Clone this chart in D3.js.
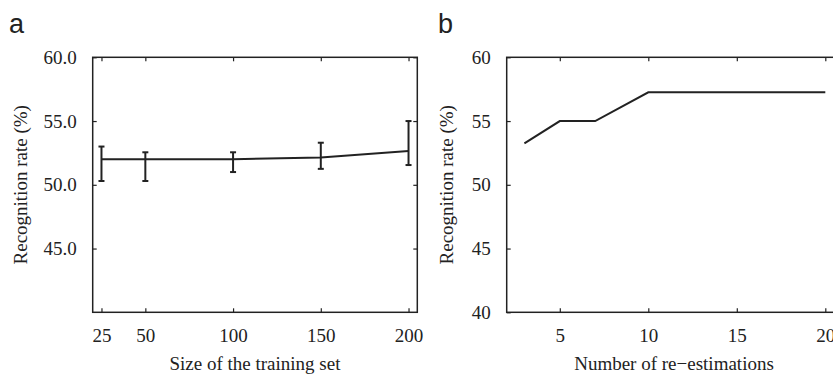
<!DOCTYPE html>
<html>
<head>
<meta charset="utf-8">
<script src="https://cdn.jsdelivr.net/npm/d3@7"></script>
<style>
  html, body { margin: 0; padding: 0; background: #fff; }
  svg { display: block; }
  .tick text { font-family: "Liberation Serif", "Times New Roman", serif; font-size: 19px; fill: #222; }
  .lbl { font-family: "Liberation Serif", "Times New Roman", serif; font-size: 19px; fill: #222; }
  .panel { font-family: "Liberation Sans", Arial, sans-serif; font-size: 27px; fill: #222; }
</style>
</head>
<body>
<svg id="chart" width="833" height="374"></svg>
<script>
// ---- data, panel a ----
const trainingSizes = [25, 50, 100, 150, 200];
const meanRate      = [52.0, 52.0, 52.0, 52.15, 52.65];
const upperRate     = [53.0, 52.55, 52.55, 53.3, 55.0];
const lowerRate     = [50.3, 50.3, 51.0, 51.25, 51.55];
const xTicksA = [25, 50, 100, 150, 200];
const yTicksA = [45, 50, 55, 60];

// ---- data, panel b ----
const reEstimations = [3, 5, 7, 10, 20];
const rateB         = [53.25, 55.0, 55.0, 57.25, 57.25];
const xTicksB = [5, 10, 15, 20];
const yTicksB = [40, 45, 50, 55, 60];

const ink = "#222";
const svg = d3.select("#chart");

function frame(g, x, y, xTicks, yTicks, yFmt, xLabel, xLabelCenter) {
  const [x0, x1] = x.range();
  const [y0, y1] = y.range();
  g.append("g").attr("transform", `translate(0,${y0})`)
    .call(d3.axisBottom(x).tickValues(xTicks).tickSizeInner(-4).tickSizeOuter(0).tickPadding(16))
    .call(s => s.select(".domain").remove());
  g.append("g").attr("transform", `translate(0,${y1})`)
    .call(d3.axisTop(x).tickValues(xTicks).tickSizeInner(-4).tickSizeOuter(0).tickFormat(""))
    .call(s => s.select(".domain").remove());
  g.append("g").attr("transform", `translate(${x0},0)`)
    .call(d3.axisLeft(y).tickValues(yTicks).tickSizeInner(-4).tickSizeOuter(0).tickPadding(16).tickFormat(d3.format(yFmt)))
    .call(s => s.select(".domain").remove());
  g.append("g").attr("transform", `translate(${x1},0)`)
    .call(d3.axisRight(y).tickValues(yTicks).tickSizeInner(-4).tickSizeOuter(0).tickFormat(""))
    .call(s => s.select(".domain").remove());
  g.selectAll(".tick line").attr("stroke", ink).attr("stroke-width", 1.2);
  g.append("rect")
    .attr("x", x0).attr("y", y1).attr("width", x1 - x0).attr("height", y0 - y1)
    .attr("fill", "none").attr("stroke", ink).attr("stroke-width", 1.5);
  g.append("text").attr("class", "lbl")
    .attr("x", xLabelCenter).attr("y", 370)
    .attr("text-anchor", "middle").text(xLabel);
}

// ---- panel a ----
const xA = d3.scaleLinear().domain([20, 205]).range([92.7, 417.3]);
const yA = d3.scaleLinear().domain([40, 60]).range([312.3, 57.3]);
const gA = svg.append("g");
frame(gA, xA, yA, xTicksA, yTicksA, ".1f", "Size of the training set", 255);
gA.append("text").attr("class", "lbl")
  .attr("transform", `translate(26.5,${(yA(40) + yA(60)) / 2}) rotate(-90)`)
  .attr("text-anchor", "middle").text("Recognition rate (%)");
gA.append("text").attr("class", "panel").attr("x", 9).attr("y", 33).text("a");

const ptsA = trainingSizes.map((s, i) => ({ s, m: meanRate[i], hi: upperRate[i], lo: lowerRate[i] }));
gA.append("path").datum(ptsA)
  .attr("fill", "none").attr("stroke", ink).attr("stroke-width", 2)
  .attr("d", d3.line().x(d => xA(d.s)).y(d => yA(d.m)));
const eb = gA.selectAll(".eb").data(ptsA).enter().append("g").attr("class", "eb")
  .attr("stroke", ink).attr("stroke-width", 2);
eb.append("line").attr("x1", d => xA(d.s)).attr("x2", d => xA(d.s))
  .attr("y1", d => yA(d.lo)).attr("y2", d => yA(d.hi));
eb.append("line").attr("x1", d => xA(d.s) - 3).attr("x2", d => xA(d.s) + 3)
  .attr("y1", d => yA(d.hi)).attr("y2", d => yA(d.hi));
eb.append("line").attr("x1", d => xA(d.s) - 3).attr("x2", d => xA(d.s) + 3)
  .attr("y1", d => yA(d.lo)).attr("y2", d => yA(d.lo));

// ---- panel b ----
const xB = d3.scaleLinear().domain([2, 21]).range([506.7, 506.7 + 19 * 17.7]);
const yB = d3.scaleLinear().domain([40, 60]).range([312.3, 57.3]);
const gB = svg.append("g");
frame(gB, xB, yB, xTicksB, yTicksB, "d", "Number of re\u2212estimations", 674);
gB.append("text").attr("class", "lbl")
  .attr("transform", `translate(453,${(yB(40) + yB(60)) / 2}) rotate(-90)`)
  .attr("text-anchor", "middle").text("Recognition rate (%)");
gB.append("text").attr("class", "panel").attr("x", 438).attr("y", 33).text("b");

gB.append("path").datum(reEstimations.map((n, i) => ({ n, r: rateB[i] })))
  .attr("fill", "none").attr("stroke", ink).attr("stroke-width", 2)
  .attr("d", d3.line().x(d => xB(d.n)).y(d => yB(d.r)));
</script>
</body>
</html>
